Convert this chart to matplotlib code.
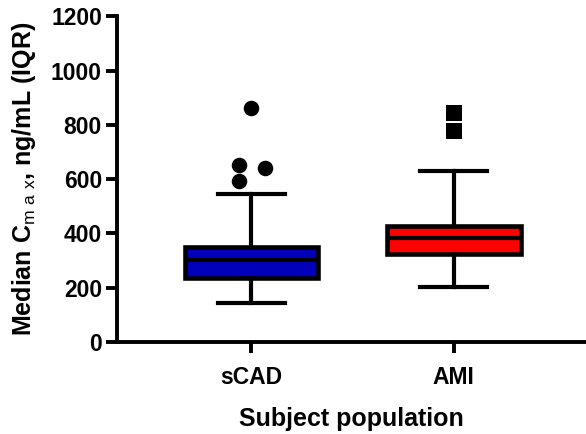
import matplotlib
matplotlib.use('Agg')
from matplotlib import pyplot as plt
import numpy as np

plt.rcParams['font.family'] = ['Liberation Sans', 'DejaVu Sans']
plt.rcParams['mathtext.fontset'] = 'custom'
plt.rcParams['mathtext.rm'] = 'Liberation Sans'
plt.rcParams['mathtext.bf'] = 'Liberation Sans:bold'

# box statistics (ng/mL)
groups = ['sCAD', 'AMI']
whisk_lo = [144, 203]
q1 = [235, 324]
med = [302, 385]
q3 = [352, 428]
whisk_hi = [544, 631]
colors = ['#0000bb', '#ff0000']

# outliers per group, with small horizontal offsets as drawn
outliers = [[864, 652, 595, 642], [844, 778]]
outlier_dx = [[0.0, -0.06, -0.06, 0.065], [0.0, 0.0]]
markers = ['o', 's']

stats = []
for i, g in enumerate(groups):
    stats.append(dict(label=g, whislo=whisk_lo[i], q1=q1[i], med=med[i],
                      q3=q3[i], whishi=whisk_hi[i], fliers=[]))

fig = plt.figure(figsize=(5.86, 4.34), dpi=100)
ax = fig.add_axes([0.2, 0.212, 0.8, 0.75])

lw = 3.0
bp = ax.bxp(stats, positions=[0, 1], widths=0.66, patch_artist=True,
            showfliers=False,
            boxprops=dict(linewidth=lw + 0.3, edgecolor='black'),
            medianprops=dict(linewidth=lw, color='black'),
            whiskerprops=dict(linewidth=lw, color='black'),
            capprops=dict(linewidth=lw, color='black'),
            capwidths=0.33)
for patch, c in zip(bp['boxes'], colors):
    patch.set_facecolor(c)

for i in range(len(groups)):
    xs = np.array(outlier_dx[i]) + i
    ax.scatter(xs, outliers[i], marker=markers[i], s=125, color='black',
               zorder=5, linewidths=0)

ax.set_xlim(-0.663, 1.653)
ax.set_ylim(0, 1200)
ax.set_yticks(np.arange(0, 1201, 200))
ax.set_xticks([0, 1])
ax.set_xticklabels(groups)

for s in ['top', 'right']:
    ax.spines[s].set_visible(False)
for s in ['left', 'bottom']:
    ax.spines[s].set_linewidth(2.8)
ax.tick_params(axis='both', width=2.8, length=8, labelsize=16.5)
ax.tick_params(axis='x', pad=9)
ax.tick_params(axis='y', pad=3)
for lab in ax.get_xticklabels() + ax.get_yticklabels():
    lab.set_fontweight('bold')

ax.set_ylabel(r'Median C$_{\mathrm{m\ a\ x}}$, ng/mL (IQR)', fontsize=18,
              fontweight='bold', labelpad=9)
ax.set_xlabel('Subject population', fontsize=18, fontweight='bold',
              labelpad=13)

fig.savefig('out.png', dpi=100)
